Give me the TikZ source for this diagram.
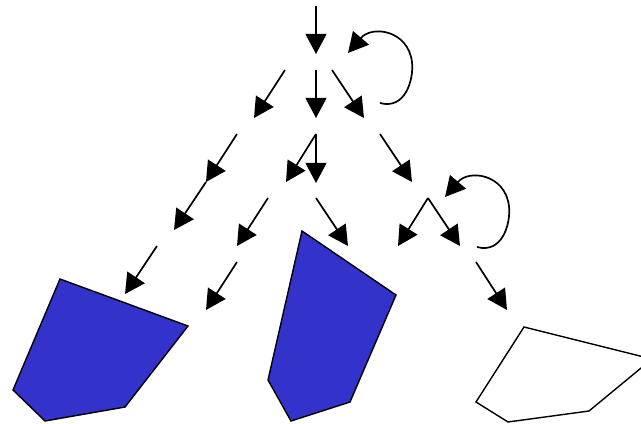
\documentclass[tikz,border=0pt]{standalone}
\usetikzlibrary{arrows.meta}
\definecolor{chipblue}{RGB}{51,51,204}
\begin{document}
\begin{tikzpicture}[x=0.025cm, y=-0.025cm, edge/.style={-{Triangle[length=5mm, width=5.2mm]}, line width=1.2pt}, piece/.style={draw, line width=1pt, line join=miter}]
\useasboundingbox (0,0) rectangle (641,423);
\clip (0,0) rectangle (641,423);
% branch points and arrow ends
\coordinate (in) at (316,6); \coordinate (r0) at (316,54);
\coordinate (aL) at (285,70); \coordinate (aM) at (316,70); \coordinate (aR) at (332,70);
\coordinate (bL) at (254,118); \coordinate (bM) at (316,118); \coordinate (bR) at (364,118);
\coordinate (cL) at (237,134); \coordinate (cM) at (316,134); \coordinate (cR) at (380,134);
\coordinate (dL) at (206,182); \coordinate (dM1) at (286,182); \coordinate (dM2) at (316,183); \coordinate (dR) at (412,182);
\coordinate (eL) at (174,230); \coordinate (eM1) at (268,198); \coordinate (eM2) at (316,198); \coordinate (eR) at (428,198);
\coordinate (fM1) at (237,246); \coordinate (fM2) at (348,246); \coordinate (fR1) at (398,246); \coordinate (fR2) at (460,246);
\coordinate (gL) at (157,246); \coordinate (gM) at (237,262); \coordinate (gR) at (476,262);
\coordinate (hL) at (125,294); \coordinate (hM) at (206,310); \coordinate (hR) at (507,310);
\foreach \a/\b in {in/r0, aL/bL, aM/bM, aR/bR, cL/dL, dL/eL, cM/dM1, cM/dM2, cR/dR, eM1/fM1, eM2/fM2, eR/fR1, eR/fR2, gL/hL, gM/hM, gR/hR}
  \draw[edge] (\a) -- (\b);
% self loops
\coordinate (s1) at (380,103); \coordinate (m1) at (412,62); \coordinate (t1) at (348,53);
\coordinate (s2) at (477,247); \coordinate (m2) at (509,206); \coordinate (t2) at (445,197);
\foreach \s/\m/\t in {s1/m1/t1, s2/m2/t2}
  \draw[edge] (\s) .. controls +(25,7) and +(2,18) .. (\m) .. controls +(-4,-32) and +(24,-28) .. (\t);
% pieces
\draw[piece, fill=chipblue] (60,279) -- (188,326) -- (125,407) -- (45,421) -- (13,390) -- cycle;
\draw[piece, fill=chipblue] (302,231) -- (396,295) -- (350,402) -- (291,421) -- (268,380) -- cycle;
\draw[piece, fill=white] (524,327) -- (652,359) -- (589,411) -- (508,422) -- (476,402) -- cycle;
\end{tikzpicture}
\end{document}
